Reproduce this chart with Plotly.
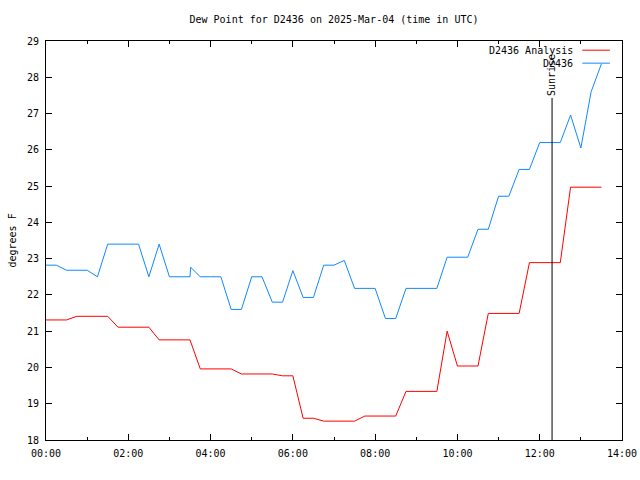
import plotly.graph_objects as go

DAY = "2025-03-04 "

analysis_times = ["00:00","00:15","00:30","00:45","01:00","01:15","01:30","01:45","02:00","02:15",
                  "02:30","02:45","03:00","03:15","03:30","03:45","04:00","04:15","04:30","04:45",
                  "05:00","05:15","05:30","05:45","06:00","06:15","06:30","06:45","07:00","07:15",
                  "07:30","07:45","08:00","08:15","08:30","08:45","09:00","09:15","09:30","09:45",
                  "10:00","10:15","10:30","10:45","11:00","11:15","11:30","11:45","12:00","12:15",
                  "12:30","12:45","13:00","13:15","13:30"]
analysis_vals = [21.31,21.31,21.31,21.41,21.41,21.41,21.41,21.11,21.11,21.11,
                 21.11,20.76,20.76,20.76,20.76,19.96,19.96,19.96,19.96,19.82,
                 19.82,19.82,19.82,19.77,19.77,18.60,18.60,18.52,18.52,18.52,
                 18.52,18.66,18.66,18.66,18.66,19.34,19.34,19.34,19.34,21.00,
                 20.04,20.04,20.04,21.49,21.49,21.49,21.49,22.89,22.89,22.89,
                 22.89,24.97,24.97,24.97,24.97]

obs_times = ["00:00","00:15","00:30","00:45","01:00","01:15","01:30","01:45","02:00","02:15",
             "02:30","02:45","03:00","03:15","03:30","03:31","03:45","04:00","04:15","04:30",
             "04:45","05:00","05:15","05:30","05:45","06:00","06:15","06:30","06:45","07:00",
             "07:15","07:30","07:45","08:00","08:15","08:30","08:45","09:00","09:15","09:30",
             "09:45","10:00","10:15","10:30","10:45","11:00","11:15","11:30","11:45","12:00",
             "12:15","12:30","12:45","13:00","13:15","13:30"]
obs_vals = [22.82,22.82,22.68,22.68,22.68,22.50,23.40,23.40,23.40,23.40,
            22.50,23.40,22.50,22.50,22.50,22.76,22.50,22.50,22.50,21.60,
            21.60,22.50,22.50,21.80,21.80,22.67,21.93,21.93,22.82,22.82,
            22.95,22.18,22.18,22.18,21.35,21.35,22.18,22.18,22.18,22.18,
            23.04,23.04,23.04,23.81,23.81,24.72,24.72,25.46,25.46,26.20,
            26.20,26.20,26.96,26.05,27.60,28.37]

sunrise_time = "12:18"
sunrise_top = 27.43
x_ticks = ["00:00","02:00","04:00","06:00","08:00","10:00","12:00","14:00"]
y_ticks = list(range(18, 30))

FONT = "DejaVu Sans Mono"
RED = "#ff0000"
BLUE = "#1088ff"

fig = go.Figure()
fig.add_trace(go.Scatter(x=[DAY + t for t in analysis_times], y=analysis_vals, mode="lines",
                         line=dict(color=RED, width=1), name="D2436 Analysis", showlegend=False))
fig.add_trace(go.Scatter(x=[DAY + t for t in obs_times], y=obs_vals, mode="lines",
                         line=dict(color=BLUE, width=1), name="D2436", showlegend=False))
fig.add_trace(go.Scatter(x=[DAY + sunrise_time, DAY + sunrise_time], y=[18, sunrise_top], mode="lines",
                         line=dict(color="black", width=1), showlegend=False))

fig.add_annotation(x=DAY + sunrise_time, y=sunrise_top, text="Sunrise", textangle=-90,
                   showarrow=False, xanchor="center", yanchor="bottom",
                   font=dict(family=FONT, size=10, color="black"))

# legend (gnuplot style: text, then sample on the right)
for i, (label, col) in enumerate([("D2436 Analysis", RED), ("D2436", BLUE)]):
    yp = 0.977 - i * 0.0325
    fig.add_annotation(x=0.918, y=yp, xref="paper", yref="paper", text=label, showarrow=False,
                       xanchor="right", yanchor="middle", font=dict(family=FONT, size=10, color="black"))
    fig.add_shape(type="line", xref="paper", yref="paper", x0=0.931, x1=0.979, y0=yp, y1=yp,
                  line=dict(color=col, width=1))

fig.add_annotation(x=-0.059, y=0.5, xref="paper", yref="paper", text="degrees F", textangle=-90,
                   showarrow=False, xanchor="center", yanchor="middle",
                   font=dict(family=FONT, size=10, color="black"))

fig.update_layout(
    width=640, height=480,
    margin=dict(l=46, r=18, t=41, b=40, autoexpand=False),
    paper_bgcolor="white", plot_bgcolor="white",
    font=dict(family=FONT, size=10, color="black"),
    title=dict(text="Dew Point for D2436 on 2025-Mar-04 (time in UTC)", x=0.5, xref="paper",
               y=1 - 19 / 480, yanchor="middle", font=dict(family=FONT, size=10, color="black")),
    xaxis=dict(type="date", range=[DAY + "00:00", DAY + "14:00"], automargin=False,
               tickvals=[DAY + t for t in x_ticks], ticktext=x_ticks, ticklabelstandoff=4,
               ticks="inside", ticklen=6, tickcolor="black", mirror="allticks",
               showline=True, linecolor="black", linewidth=1, showgrid=False, zeroline=False,
               minor=dict(dtick=3600000, ticks="inside", ticklen=3, tickcolor="black", showgrid=False)),
    yaxis=dict(range=[18, 29], tickvals=y_ticks, ticks="inside", ticklen=6, tickcolor="black",
               mirror="allticks", showline=True, linecolor="black", linewidth=1, automargin=False,
               ticklabelstandoff=4, showgrid=False, zeroline=False),
)

fig.write_html("out.html")
